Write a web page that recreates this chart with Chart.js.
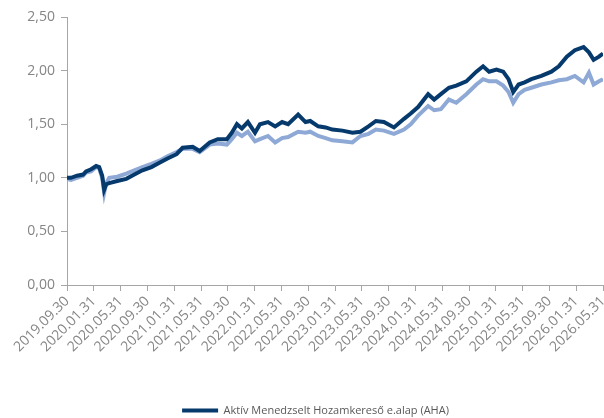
<!DOCTYPE html>
<html>
<head>
<meta charset="utf-8">
<script src="https://cdn.jsdelivr.net/npm/chart.js@4/dist/chart.umd.min.js"></script>
<style>
html,body{margin:0;padding:0;background:#fff;}
#wrap{width:604px;height:418px;position:relative;}
</style>
</head>
<body>
<div id="wrap"><canvas id="c" width="604" height="418"></canvas></div>
<script>
// x tick labels (every 4 months)
const tickLabels = ["2019.09.30","2020.01.31","2020.05.31","2020.09.30","2021.01.31","2021.05.31","2021.09.30","2022.01.31","2022.05.31","2022.09.30","2023.01.31","2023.05.31","2023.09.30","2024.01.31","2024.05.31","2024.09.30","2025.01.31","2025.05.31","2025.09.30","2026.01.31","2026.05.31"];
const yTicks = [0, 0.5, 1, 1.5, 2, 2.5];

// months elapsed since 2019.09.30 (sample positions)
const months = [0,0.6,1.5,2.4,2.85,3.6,4.35,4.8,5.25,5.55,5.85,6.3,7.5,8.85,10.05,11.26,12.6,13.8,15.0,16.36,17.26,18.76,19.8,21.3,22.5,23.86,24.6,25.36,26.1,27.0,28.06,28.8,30.0,31.07,32.1,33.0,34.5,35.6,36.3,37.5,38.6,39.6,41.1,42.6,43.8,45.0,46.1,47.3,48.8,50.3,51.3,52.4,53.9,54.8,55.8,57.0,58.1,59.6,61.1,62.1,63.0,64.1,65.1,65.9,66.6,67.4,68.3,69.3,70.8,72.3,73.4,74.6,75.8,77.1,77.9,78.6,79.4,80];

const fundName = "Aktív Menedzselt Hozamkereső e.alap (AHA)";
const fundValues = [1.00,1.00,1.02,1.03,1.06,1.08,1.11,1.10,1.02,0.89,0.94,0.95,0.97,0.99,1.03,1.07,1.10,1.14,1.18,1.22,1.28,1.29,1.25,1.33,1.36,1.36,1.42,1.50,1.46,1.52,1.42,1.50,1.52,1.48,1.52,1.50,1.59,1.52,1.53,1.48,1.47,1.45,1.44,1.42,1.43,1.48,1.53,1.52,1.47,1.55,1.60,1.66,1.78,1.73,1.78,1.84,1.86,1.90,1.99,2.04,1.99,2.01,1.99,1.92,1.80,1.87,1.89,1.92,1.95,1.99,2.04,2.13,2.19,2.22,2.17,2.10,2.13,2.16];

const benchName = "Referenciaindex";
const benchValues = [0.99,0.98,1.00,1.02,1.05,1.06,1.10,1.09,1.00,0.86,0.95,1.00,1.01,1.04,1.07,1.10,1.13,1.16,1.20,1.24,1.27,1.27,1.24,1.31,1.32,1.31,1.36,1.42,1.39,1.43,1.34,1.36,1.39,1.33,1.37,1.38,1.43,1.42,1.43,1.39,1.37,1.35,1.34,1.33,1.39,1.41,1.45,1.44,1.41,1.45,1.50,1.58,1.67,1.63,1.64,1.73,1.70,1.78,1.87,1.92,1.90,1.90,1.86,1.80,1.70,1.78,1.82,1.84,1.87,1.89,1.91,1.92,1.95,1.89,1.98,1.87,1.90,1.92];

const toPts = vals => vals.map((v, i) => ({x: months[i], y: v}));

const axisColor = '#a6a6a6';
const labelColor = '#858585';
const fontFam = "'Open Sans', sans-serif";

const shiftLegend = {
  id: 'shiftLegend',
  afterLayout(chart) {
    const lg = chart.legend;
    if (lg) { lg.left += 14; lg.right += 14; lg.top += 8; lg.bottom += 8; }
  }
};

new Chart(document.getElementById('c'), {
  type: 'line',
  data: {
    datasets: [
      {label: fundName, data: toPts(fundValues), borderColor: '#063a6d', backgroundColor: '#063a6d', borderWidth: 4, pointRadius: 0, tension: 0},
      {label: benchName, data: toPts(benchValues), borderColor: '#8ea9d5', backgroundColor: '#8ea9d5', borderWidth: 4, pointRadius: 0, tension: 0}
    ]
  },
  plugins: [shiftLegend],
  options: {
    responsive: false,
    animation: false,
    layout: {padding: {top: 17, right: 1, left: 0, bottom: 0}},
    plugins: {
      tooltip: {enabled: false},
      legend: {
        position: 'bottom',
        labels: {
          boxWidth: 36, boxHeight: 4, padding: 0,
          color: '#595959',
          font: {family: fontFam, size: 11},
          filter: item => item.datasetIndex === 0,
          generateLabels: chart => Chart.defaults.plugins.legend.labels.generateLabels(chart).map(it => Object.assign(it, {lineWidth: 0}))
        }
      }
    },
    scales: {
      x: {
        type: 'linear', min: 0, max: 80,
        afterFit: s => { s.height = 112; s.paddingRight = 0; },
        afterBuildTicks: s => { s.ticks = tickLabels.map((_, i) => ({value: i * 4})); },
        ticks: {
          autoSkip: false, maxRotation: 45, minRotation: 45, padding: 2,
          color: labelColor, font: {family: fontFam, size: 14},
          callback: v => tickLabels[Math.round(v / 4)]
        },
        grid: {display: true, drawOnChartArea: false, drawTicks: true, tickLength: 6, color: axisColor},
        border: {color: axisColor, width: 1}
      },
      y: {
        min: 0, max: 2.5,
        afterFit: s => { s.width = 67; },
        afterBuildTicks: s => { s.ticks = yTicks.map(v => ({value: v})); },
        ticks: {
          padding: 6, color: labelColor, font: {family: fontFam, size: 14},
          callback: v => v.toFixed(2).replace('.', ',')
        },
        grid: {display: true, drawOnChartArea: false, drawTicks: true, tickLength: 6, color: axisColor},
        border: {color: axisColor, width: 1}
      }
    }
  }
});
</script>
</body>
</html>
